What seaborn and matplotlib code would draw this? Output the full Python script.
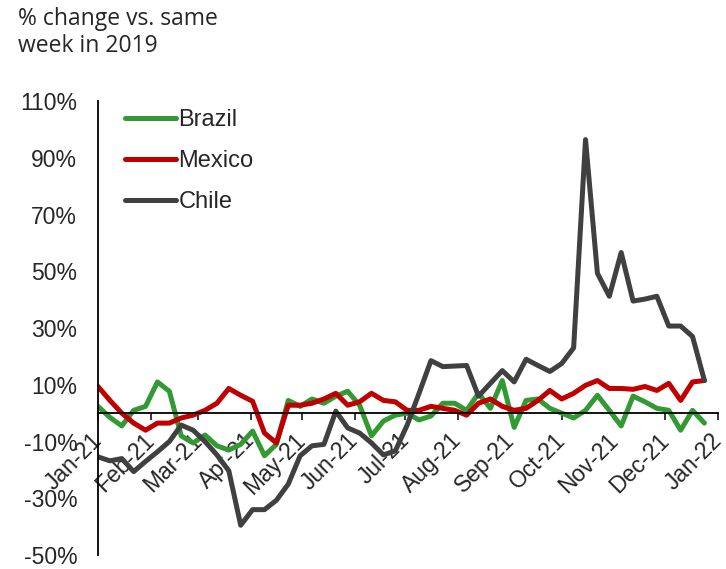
import pandas as pd
import matplotlib
matplotlib.use("Agg")
import matplotlib.pyplot as plt
import matplotlib.dates as mdates
import seaborn as sns

# Weekly data, % change vs. same week in 2019
weeks = pd.date_range("2021-01-01", periods=52, freq="7D")

brazil = [2.4, -1.5, -4.5, 1, 2.4, 11, 7.7, -8, -10.5, -7.7,
          -11.5, -13, -11, -6.3, -15, -11, 4.5, 2.4, 5, 3.5,
          6, 7.7, 2.8, -8, -2.8, -0.7, 0, -2.4, -1, 3.5,
          3.5, 1, 7, 1.7, 11.5, -5, 4.5, 5, 1.7, 0,
          -1.7, 1, 6.3, 1, -4.5, 6, 4, 1.7, 1, -6,
          1, -3.5]
mexico = [9.4, 4.5, 0, -3.5, -6, -3.5, -3.5, -1.7, -0.7, 1,
          3.5, 8.7, 6.3, 4.2, -7, -10.5, 2.8, 2.8, 3.5, 5,
          7, 2.8, 4, 7, 4.5, 4, 1, 1, 2.4, 1.7,
          1, -0.7, 3.5, 5, 2.4, 1, 1.7, 4.5, 8, 5,
          7, 9.8, 11.5, 8.7, 8.7, 8.4, 9.4, 8, 10.5, 4.5,
          11, 11.5]
chile = [-15.4, -16.8, -16, -20.6, -17, -13.6, -10, -4.2, -6, -10,
         -14.7, -20.3, -39.5, -34, -34, -30.7, -25, -15, -11.5, -11,
         0.7, -5.2, -7, -10.5, -14.7, -13.3, -4.2, 7, 18.5, 16.4,
         16.6, 16.8, 6, 10.5, 15, 11, 19, 16.8, 14.7, 17.5,
         23, 96.4, 49.3, 41.2, 56.6, 39.5, 40.2, 41.2, 30.7, 30.7,
         27, 11.5]

countries = ["Brazil", "Mexico", "Chile"]
colors = {"Brazil": "#339933", "Mexico": "#C00000", "Chile": "#404040"}
y_ticks = [110, 90, 70, 50, 30, 10, -10, -30, -50]

df = pd.DataFrame({"Week": weeks, "Brazil": brazil, "Mexico": mexico, "Chile": chile})
df = df.melt(id_vars="Week", var_name="Country", value_name="Change")

sns.set_style("white")
plt.rcParams["font.family"] = ["Liberation Sans", "DejaVu Sans"]

fig = plt.figure(figsize=(7.26, 5.69), dpi=100)
ax = fig.add_axes([0.135, 0.0245, 0.854, 0.798])

sns.lineplot(data=df, x="Week", y="Change", hue="Country", hue_order=countries,
             palette=colors, linewidth=3.6, ax=ax)

ax.set_xlim(pd.Timestamp("2021-01-01"), pd.Timestamp("2022-01-01"))
ax.set_ylim(-50, 110)
ax.set_yticks(y_ticks)
ax.set_yticklabels([f"{v}%" for v in y_ticks])
ax.set_xlabel("")
ax.set_ylabel("")

ax.xaxis.set_major_locator(mdates.MonthLocator())
ax.xaxis.set_major_formatter(mdates.DateFormatter("%b-%y"))

for side in ["top", "right"]:
    ax.spines[side].set_visible(False)
ax.spines["bottom"].set_position(("data", 0))
ax.spines["bottom"].set_linewidth(1.3)
ax.spines["left"].set_linewidth(1.3)
ax.spines["bottom"].set_color("black")
ax.spines["left"].set_color("black")

ax.tick_params(axis="y", length=0, pad=15, labelsize=16.5)
ax.tick_params(axis="x", direction="out", length=5, width=1.3, pad=12,
               labelsize=16.5, bottom=True)
plt.setp(ax.get_xticklabels(), rotation=45, ha="right", va="center",
         rotation_mode="anchor")

leg = ax.legend(loc="upper left", bbox_to_anchor=(0.0435, 0.982), frameon=False,
                fontsize=17, handlelength=2.15, handletextpad=0.12,
                borderpad=0, borderaxespad=0, labelspacing=0.8)
for line in leg.get_lines():
    line.set_linewidth(3.6)
    line.set_solid_capstyle("round")

fig.text(0.025, 0.988, "% change vs. same\nweek in 2019", family="Open Sans",
         fontsize=16.5, va="top", ha="left", linespacing=1.15)

fig.savefig("out.png", dpi=100)
